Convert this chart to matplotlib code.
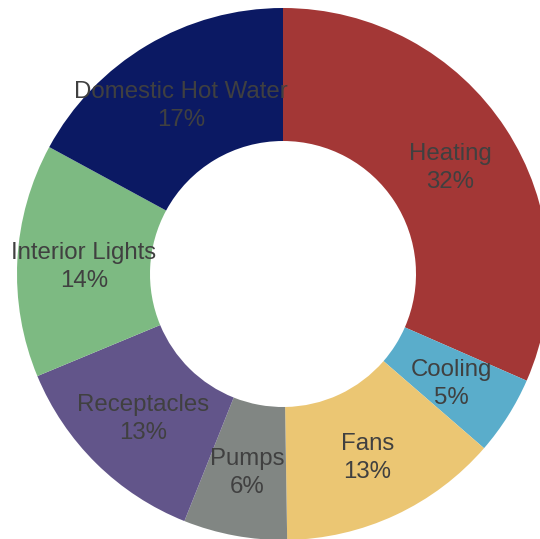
import matplotlib
matplotlib.use("Agg")
import matplotlib.pyplot as plt

categories = ["Heating", "Cooling", "Fans", "Pumps", "Receptacles",
              "Interior Lights", "Domestic Hot Water"]
values = [31.6, 4.8, 13.4, 6.3, 12.7, 14.2, 17.1]
colors = ["#A33736", "#5AADCB", "#EBC673", "#818683", "#62558A",
          "#7DBA82", "#0B1963"]

plt.rcParams['font.family'] = ['Liberation Sans', 'DejaVu Sans']

W, H = 540, 539
fig = plt.figure(figsize=(W / 100, H / 100), dpi=100)
ax = fig.add_axes([0, 0, 1, 1])

cx, cy, R = 283, 274, 266  # pixel centre and radius
total = sum(values)

wedges, texts = ax.pie(values, colors=colors, startangle=90, counterclock=False,
                       radius=1.0, wedgeprops=dict(width=0.5, linewidth=0),
                       labels=[f"{c}\n{round(v / total * 100):d}%" for c, v in zip(categories, values)],
                       labeldistance=0.75,
                       textprops=dict(color="#404040", fontsize=17.3, ha="center", va="center",
                                      linespacing=1.35))
for t in texts:
    t.set_horizontalalignment("center")
    x, y = t.get_position()
    t.set_position((x, y - 3 / R))

ax.set_xlim(-cx / R, (W - cx) / R)
ax.set_ylim((cy - H) / R, cy / R)
ax.set_aspect("equal")
ax.axis("off")

fig.savefig("out.png", dpi=100)
